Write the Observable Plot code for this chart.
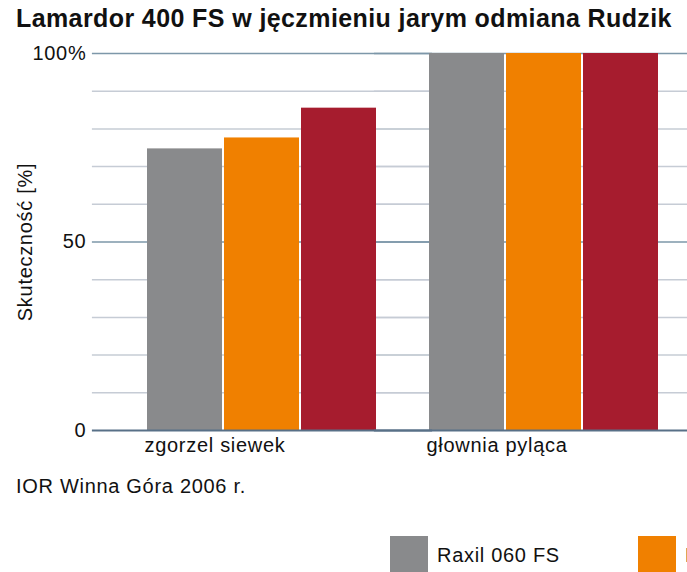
<!DOCTYPE html>
<html><head><meta charset="utf-8">
<script src="https://cdn.jsdelivr.net/npm/d3@7"></script>
<script src="https://cdn.jsdelivr.net/npm/@observablehq/plot@0.6"></script>
<style>
html,body{margin:0;padding:0;overflow:hidden;background:#fff;}
#wrap{width:714px;font-family:"Liberation Sans",Arial,sans-serif;color:#111;}
#title{font-size:25px;font-weight:bold;line-height:30px;height:30px;padding:3px 0 0 16px;letter-spacing:0.4px;white-space:nowrap;}
#caption{font-size:20px;line-height:24px;height:24px;padding:8px 0 0 16px;letter-spacing:0.7px;white-space:nowrap;}
#legend{display:flex;margin:38px 0 0 390px;font-size:20px;letter-spacing:0.7px;white-space:nowrap;}
.item{display:flex;align-items:center;width:248px;flex:none;}
.sw{width:38px;height:38px;margin-right:9px;flex:none;}
svg{display:block;}
</style></head><body><div id="wrap">
<div id="title">Lamardor 400 FS w jęczmieniu jarym odmiana Rudzik</div>
<div id="chart"></div>
<div id="caption">IOR Winna Góra 2006 r.</div>
<div id="legend"></div>
</div>
<script>
const categories = ["zgorzel siewek", "głownia pyląca"];
const series = ["Raxil 060 FS", "Lamardor 400 FS 0,15 l/t", "Lamardor 400 FS 0,2 l/t"];
const raxil = [74.7, 100];
const lamardor015 = [77.6, 100];
const lamardor02 = [85.5, 100];
const colors = ["#898a8c", "#f08000", "#a61c2e"];
const yTicks = [0, 50, 100];
const yTickLabels = ["0", "50", "100%"];
const minorTicks = [10, 20, 30, 40, 60, 70, 80, 90];
const yLabel = "Skuteczność [%]";

const valuesBySeries = [raxil, lamardor015, lamardor02];
const data = categories.flatMap((c, i) =>
  series.map((s, j) => ({category: c, series: s, value: valuesBySeries[j][i]})));

const W = 714, ML = 91, MR = 0;
const padIn = 0.185, padOut = 0.195;
const step = (W - ML - MR) / (categories.length - padIn + 2 * padOut);
const outer = padOut * step;           // gap between plot edge and first facet
const ext = -outer;                    // extend facet rules to the plot edges

const first = categories[0];
const chart = Plot.plot({
  width: W, height: 433,
  marginLeft: ML, marginRight: MR, marginTop: 20, marginBottom: 36,
  style: {fontFamily: '"Liberation Sans", Arial, sans-serif', fontSize: "20px", color: "#111", background: "#fff", letterSpacing: "0.7px"},
  fx: {domain: categories, paddingInner: padIn, paddingOuter: padOut, axis: null, label: null},
  x: {domain: series, paddingInner: 0.02, paddingOuter: 0, axis: null, label: null},
  y: {domain: [0, 100], axis: null},
  color: {domain: series, range: colors},
  marks: [
    Plot.ruleY(minorTicks, {stroke: "#c6ccd5", strokeWidth: 1.5, insetLeft: ext, insetRight: ext}),
    Plot.ruleY([50, 100], {stroke: "#7d97a9", strokeWidth: 1.5, insetLeft: ext, insetRight: ext}),
    Plot.text(yTicks, {fx: () => first, y: d => d, text: (d, i) => yTickLabels[i], frameAnchor: "left", textAnchor: "end", dx: -6 - outer}),
    Plot.text([yLabel], {fx: () => first, text: d => d, frameAnchor: "left", rotate: -90, textAnchor: "middle", dx: -67 - outer}),
    Plot.barY(data, {fx: "category", x: "series", y: "value", fill: "series"}),
    Plot.ruleY([0], {stroke: "#587087", strokeWidth: 2, insetLeft: ext, insetRight: ext}),
    Plot.text(categories, {fx: d => d, text: d => d, frameAnchor: "bottom-left", textAnchor: "start", dx: -3, dy: 21})
  ]
});
document.getElementById("chart").append(chart);

const legend = document.getElementById("legend");
series.forEach((s, i) => {
  const item = document.createElement("div");
  item.className = "item";
  const sw = document.createElement("div");
  sw.className = "sw";
  sw.style.background = colors[i];
  const label = document.createElement("span");
  label.textContent = s;
  item.append(sw, label);
  legend.append(item);
});
</script>
</body></html>
